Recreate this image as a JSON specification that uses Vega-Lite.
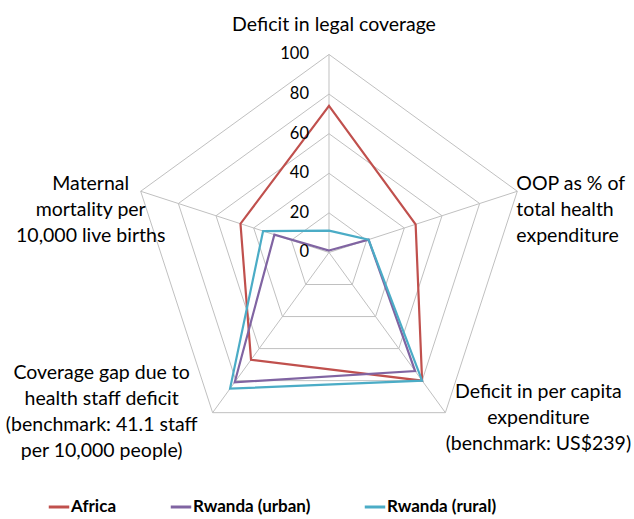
{
  "$schema": "https://vega.github.io/schema/vega-lite/v6.json",
  "width": 634,
  "height": 519,
  "autosize": {"type": "none"},
  "padding": 0,
  "background": "white",
  "config": {"view": {"stroke": null}, "font": "Lato"},
  "datasets": {
    "series": [
      {"series": "Africa", "idx": 0, "value": 74},
      {"series": "Africa", "idx": 1, "value": 46},
      {"series": "Africa", "idx": 2, "value": 80},
      {"series": "Africa", "idx": 3, "value": 67},
      {"series": "Africa", "idx": 4, "value": 47},
      {"series": "Rwanda (urban)", "idx": 0, "value": 1},
      {"series": "Rwanda (urban)", "idx": 1, "value": 21},
      {"series": "Rwanda (urban)", "idx": 2, "value": 74},
      {"series": "Rwanda (urban)", "idx": 3, "value": 81},
      {"series": "Rwanda (urban)", "idx": 4, "value": 29},
      {"series": "Rwanda (rural)", "idx": 0, "value": 11},
      {"series": "Rwanda (rural)", "idx": 1, "value": 21},
      {"series": "Rwanda (rural)", "idx": 2, "value": 80},
      {"series": "Rwanda (rural)", "idx": 3, "value": 85},
      {"series": "Rwanda (rural)", "idx": 4, "value": 35}
    ],
    "axes": [
      {"idx": 0, "name": "Deficit in legal coverage"},
      {"idx": 1, "name": "OOP as % of\ntotal health\nexpenditure"},
      {"idx": 2, "name": "Deficit in per capita\nexpenditure\n(benchmark: US$239)"},
      {"idx": 3, "name": "Coverage gap due to\nhealth staff deficit\n(benchmark: 41.1 staff\nper 10,000 people)"},
      {"idx": 4, "name": "Maternal\nmortality per\n10,000 live births"}
    ],
    "grid": [
      {"level": 20, "k": [0, 1, 2, 3, 4]},
      {"level": 40, "k": [0, 1, 2, 3, 4]},
      {"level": 60, "k": [0, 1, 2, 3, 4]},
      {"level": 80, "k": [0, 1, 2, 3, 4]},
      {"level": 100, "k": [0, 1, 2, 3, 4]}
    ],
    "ticks": [
      {"v": 0}, {"v": 20}, {"v": 40}, {"v": 60}, {"v": 80}, {"v": 100}
    ]
  },
  "layer": [
    {
      "data": {"name": "grid"},
      "transform": [
        {"flatten": ["k"]},
        {"calculate": "datum.level*sin(datum.k*2*PI/5)", "as": "x"},
        {"calculate": "datum.level*cos(datum.k*2*PI/5)", "as": "y"}
      ],
      "mark": {"type": "line", "interpolate": "linear-closed", "color": "#C0C0C0", "strokeWidth": 1},
      "encoding": {
        "x": {"field": "x", "type": "quantitative", "scale": {"domain": [-166.16, 154.04], "nice": false, "zero": false}, "axis": null},
        "y": {"field": "y", "type": "quantitative", "scale": {"domain": [-134.6, 127.5], "nice": false, "zero": false}, "axis": null},
        "detail": {"field": "level"},
        "order": {"field": "k"}
      }
    },
    {
      "data": {"name": "axes"},
      "transform": [
        {"calculate": "100*sin(datum.idx*2*PI/5)", "as": "x"},
        {"calculate": "100*cos(datum.idx*2*PI/5)", "as": "y"}
      ],
      "mark": {"type": "rule", "color": "#C0C0C0", "strokeWidth": 1},
      "encoding": {
        "x": {"field": "x", "type": "quantitative"},
        "y": {"field": "y", "type": "quantitative"},
        "x2": {"datum": 0},
        "y2": {"datum": 0}
      }
    },
    {
      "data": {"name": "series"},
      "transform": [
        {"calculate": "datum.value*sin(datum.idx*2*PI/5)", "as": "x"},
        {"calculate": "datum.value*cos(datum.idx*2*PI/5)", "as": "y"}
      ],
      "mark": {"type": "line", "interpolate": "linear-closed", "strokeWidth": 2.2},
      "encoding": {
        "x": {"field": "x", "type": "quantitative"},
        "y": {"field": "y", "type": "quantitative"},
        "order": {"field": "idx"},
        "color": {
          "field": "series",
          "type": "nominal",
          "scale": {"domain": ["Africa", "Rwanda (urban)", "Rwanda (rural)"], "range": ["#C0504D", "#8064A2", "#4BACC6"]},
          "legend": {
            "title": null,
            "orient": "none",
            "direction": "horizontal",
            "legendX": 47,
            "legendY": 495,
            "symbolType": "stroke",
            "symbolSize": 420,
            "symbolStrokeWidth": 3,
            "labelFont": "Lato",
            "labelFontSize": 17,
            "labelFontWeight": "bold",
            "labelColor": "#000000",
            "labelOffset": 0,
            "columnPadding": 47
          }
        }
      }
    },
    {
      "data": {"name": "ticks"},
      "transform": [
        {"calculate": "0", "as": "x"}
      ],
      "mark": {"type": "text", "align": "right", "baseline": "middle", "dx": -20, "fontSize": 16.5, "color": "#000000"},
      "encoding": {
        "x": {"field": "x", "type": "quantitative"},
        "y": {"field": "v", "type": "quantitative"},
        "text": {"field": "v", "type": "quantitative"}
      }
    },
    {
      "data": {"name": "axes"},
      "transform": [
        {"filter": "datum.idx == 0"},
        {"calculate": "100*sin(datum.idx*2*PI/5)", "as": "x"},
        {"calculate": "100*cos(datum.idx*2*PI/5)", "as": "y"}
      ],
      "mark": {"type": "text", "align": "center", "baseline": "middle", "dx": 5, "dy": -29, "fontSize": 19.5, "color": "#000000", "lineBreak": "\n", "lineHeight": 26},
      "encoding": {
        "x": {"field": "x", "type": "quantitative"},
        "y": {"field": "y", "type": "quantitative"},
        "text": {"field": "name"}
      }
    },
    {
      "data": {"name": "axes"},
      "transform": [
        {"filter": "datum.idx == 1"},
        {"calculate": "100*sin(datum.idx*2*PI/5)", "as": "x"},
        {"calculate": "100*cos(datum.idx*2*PI/5)", "as": "y"}
      ],
      "mark": {"type": "text", "align": "left", "baseline": "middle", "dx": -1, "dy": -7, "fontSize": 19.5, "color": "#000000", "lineBreak": "\n", "lineHeight": 26},
      "encoding": {
        "x": {"field": "x", "type": "quantitative"},
        "y": {"field": "y", "type": "quantitative"},
        "text": {"field": "name"}
      }
    },
    {
      "data": {"name": "axes"},
      "transform": [
        {"filter": "datum.idx == 2"},
        {"calculate": "100*sin(datum.idx*2*PI/5)", "as": "x"},
        {"calculate": "100*cos(datum.idx*2*PI/5)", "as": "y"}
      ],
      "mark": {"type": "text", "align": "center", "baseline": "middle", "dx": 93, "dy": -21, "fontSize": 19.5, "color": "#000000", "lineBreak": "\n", "lineHeight": 26},
      "encoding": {
        "x": {"field": "x", "type": "quantitative"},
        "y": {"field": "y", "type": "quantitative"},
        "text": {"field": "name"}
      }
    },
    {
      "data": {"name": "axes"},
      "transform": [
        {"filter": "datum.idx == 3"},
        {"calculate": "100*sin(datum.idx*2*PI/5)", "as": "x"},
        {"calculate": "100*cos(datum.idx*2*PI/5)", "as": "y"}
      ],
      "mark": {"type": "text", "align": "center", "baseline": "middle", "dx": -111, "dy": -40, "fontSize": 19.5, "color": "#000000", "lineBreak": "\n", "lineHeight": 26},
      "encoding": {
        "x": {"field": "x", "type": "quantitative"},
        "y": {"field": "y", "type": "quantitative"},
        "text": {"field": "name"}
      }
    },
    {
      "data": {"name": "axes"},
      "transform": [
        {"filter": "datum.idx == 4"},
        {"calculate": "100*sin(datum.idx*2*PI/5)", "as": "x"},
        {"calculate": "100*cos(datum.idx*2*PI/5)", "as": "y"}
      ],
      "mark": {"type": "text", "align": "center", "baseline": "middle", "dx": -50, "dy": -7, "fontSize": 19.5, "color": "#000000", "lineBreak": "\n", "lineHeight": 26},
      "encoding": {
        "x": {"field": "x", "type": "quantitative"},
        "y": {"field": "y", "type": "quantitative"},
        "text": {"field": "name"}
      }
    }
  ]
}
